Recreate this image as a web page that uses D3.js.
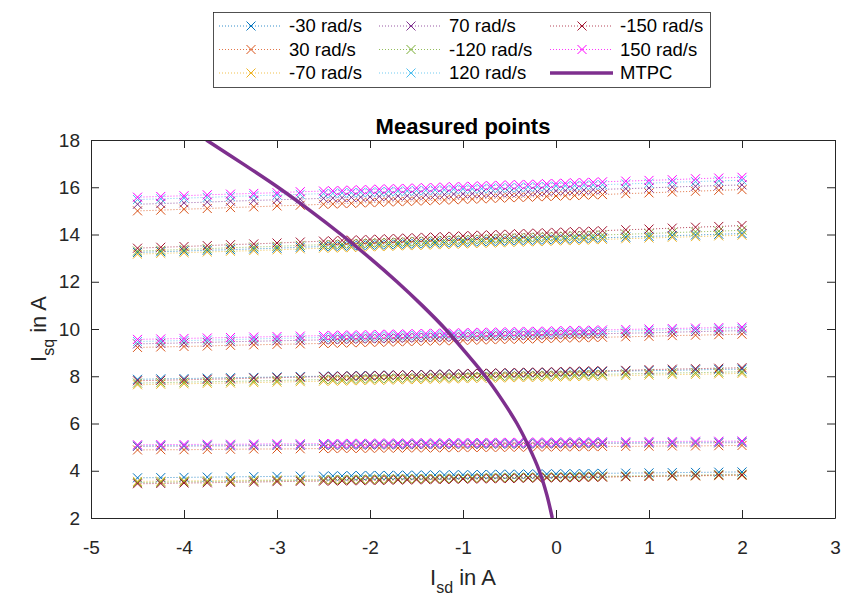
<!DOCTYPE html>
<html>
<head>
<meta charset="utf-8">
<script src="https://cdn.jsdelivr.net/npm/d3@7"></script>
<style>
    body { margin: 0; background: #fff; }
    svg { font-family: 'Liberation Sans', Arial, sans-serif; }
    .axis path, .axis line { stroke: #262626; }
    .axis text { fill: #262626; font-size: 19px; }
</style>
</head>
<body>
<svg width="845" height="595"></svg>
<script>
// Id points (A) of each measured row
let idPoints = [-4.5, -4.25, -4, -3.75, -3.5, -3.25, -3, -2.75,
    -2.5, -2.4, -2.3, -2.2, -2.1, -2, -1.9, -1.8, -1.7, -1.6, -1.5, -1.4, -1.3, -1.2, -1.1, -1,
    -0.9, -0.8, -0.7, -0.6, -0.5, -0.4, -0.3, -0.2, -0.1, 0, 0.1, 0.2, 0.3, 0.4, 0.5,
    0.75, 1, 1.25, 1.5, 1.75, 2];

// Iq values (A), one row per current level
let iqNeg30 = [
    [3.70,3.71,3.72,3.73,3.74,3.75,3.76,3.77,3.77,3.78,3.78,3.79,3.79,3.80,3.80,3.80,3.81,3.81,3.81,3.82,3.82,3.82,3.83,3.83,3.83,3.84,3.84,3.85,3.85,3.85,3.86,3.86,3.86,3.87,3.87,3.87,3.88,3.88,3.89,3.90,3.91,3.92,3.93,3.94,3.95],
    [7.87,7.89,7.90,7.92,7.94,7.95,7.97,7.99,8.00,8.01,8.01,8.02,8.03,8.03,8.04,8.05,8.05,8.06,8.07,8.07,8.08,8.09,8.09,8.10,8.11,8.11,8.12,8.13,8.13,8.14,8.15,8.15,8.16,8.17,8.17,8.18,8.18,8.19,8.20,8.22,8.24,8.25,8.27,8.29,8.30],
    [13.24,13.27,13.30,13.33,13.36,13.39,13.42,13.46,13.49,13.50,13.51,13.52,13.54,13.55,13.56,13.57,13.59,13.60,13.61,13.62,13.64,13.65,13.66,13.67,13.69,13.70,13.71,13.72,13.74,13.75,13.76,13.77,13.78,13.80,13.81,13.82,13.83,13.85,13.86,13.89,13.92,13.95,13.98,14.01,14.04]
];
let iqPos30 = [
    [4.88,4.89,4.89,4.90,4.91,4.92,4.92,4.93,4.94,4.94,4.95,4.95,4.95,4.95,4.96,4.96,4.96,4.97,4.97,4.97,4.97,4.98,4.98,4.98,4.99,4.99,4.99,4.99,5.00,5.00,5.00,5.01,5.01,5.01,5.01,5.02,5.02,5.02,5.03,5.03,5.04,5.05,5.05,5.06,5.07],
    [9.22,9.24,9.26,9.28,9.31,9.33,9.35,9.37,9.39,9.40,9.41,9.42,9.43,9.44,9.44,9.45,9.46,9.47,9.48,9.49,9.50,9.50,9.51,9.52,9.53,9.54,9.55,9.56,9.57,9.57,9.58,9.59,9.60,9.61,9.62,9.63,9.63,9.64,9.65,9.67,9.69,9.72,9.74,9.76,9.78],
    [15.00,15.03,15.07,15.10,15.14,15.17,15.21,15.24,15.28,15.29,15.31,15.32,15.34,15.35,15.36,15.38,15.39,15.40,15.42,15.43,15.45,15.46,15.47,15.49,15.50,15.51,15.53,15.54,15.56,15.57,15.58,15.60,15.61,15.63,15.64,15.65,15.67,15.68,15.69,15.73,15.76,15.80,15.83,15.87,15.90]
];
let iqNeg70 = [
    [3.55,3.56,3.57,3.58,3.59,3.60,3.61,3.62,3.62,3.63,3.63,3.64,3.64,3.65,3.65,3.65,3.66,3.66,3.66,3.67,3.67,3.67,3.68,3.68,3.68,3.69,3.69,3.70,3.70,3.70,3.71,3.71,3.71,3.72,3.72,3.72,3.73,3.73,3.74,3.75,3.76,3.77,3.78,3.79,3.80],
    [7.64,7.66,7.68,7.70,7.71,7.73,7.75,7.77,7.79,7.80,7.80,7.81,7.82,7.83,7.83,7.84,7.85,7.86,7.86,7.87,7.88,7.89,7.89,7.90,7.91,7.92,7.92,7.93,7.94,7.95,7.95,7.96,7.97,7.97,7.98,7.99,8.00,8.00,8.01,8.03,8.05,8.07,8.08,8.10,8.12],
    [13.17,13.20,13.23,13.26,13.29,13.32,13.35,13.39,13.42,13.43,13.44,13.45,13.47,13.48,13.49,13.50,13.52,13.53,13.54,13.55,13.57,13.58,13.59,13.60,13.62,13.63,13.64,13.65,13.67,13.68,13.69,13.70,13.71,13.73,13.74,13.75,13.76,13.78,13.79,13.82,13.85,13.88,13.91,13.94,13.97]
];
let iqPos70 = [
    [5.03,5.04,5.04,5.05,5.05,5.06,5.07,5.07,5.08,5.08,5.08,5.09,5.09,5.09,5.10,5.10,5.10,5.10,5.11,5.11,5.11,5.11,5.12,5.12,5.12,5.12,5.13,5.13,5.13,5.13,5.14,5.14,5.14,5.14,5.15,5.15,5.15,5.15,5.16,5.16,5.17,5.17,5.18,5.18,5.19],
    [9.37,9.39,9.41,9.43,9.46,9.48,9.50,9.52,9.54,9.55,9.56,9.57,9.58,9.59,9.59,9.60,9.61,9.62,9.63,9.64,9.65,9.65,9.66,9.67,9.68,9.69,9.70,9.71,9.72,9.72,9.73,9.74,9.75,9.76,9.77,9.78,9.78,9.79,9.80,9.82,9.84,9.86,9.89,9.91,9.93],
    [15.28,15.31,15.34,15.37,15.41,15.44,15.47,15.50,15.53,15.54,15.56,15.57,15.58,15.59,15.61,15.62,15.63,15.64,15.66,15.67,15.68,15.69,15.71,15.72,15.73,15.74,15.76,15.77,15.78,15.79,15.81,15.82,15.83,15.85,15.86,15.87,15.88,15.90,15.91,15.94,15.97,16.01,16.04,16.07,16.10]
];
let iqNeg120 = [
    [3.50,3.51,3.53,3.54,3.55,3.57,3.58,3.59,3.61,3.61,3.62,3.62,3.63,3.63,3.64,3.65,3.65,3.66,3.66,3.67,3.67,3.68,3.68,3.69,3.70,3.70,3.71,3.71,3.72,3.72,3.73,3.73,3.74,3.74,3.75,3.76,3.76,3.77,3.77,3.78,3.80,3.81,3.82,3.84,3.85],
    [7.71,7.73,7.75,7.77,7.78,7.80,7.82,7.84,7.86,7.87,7.87,7.88,7.89,7.90,7.90,7.91,7.92,7.93,7.93,7.94,7.95,7.96,7.96,7.97,7.98,7.99,7.99,8.00,8.01,8.02,8.02,8.03,8.04,8.04,8.05,8.06,8.07,8.07,8.08,8.10,8.12,8.14,8.15,8.17,8.19],
    [13.30,13.33,13.37,13.40,13.44,13.47,13.50,13.54,13.57,13.58,13.60,13.61,13.62,13.64,13.65,13.66,13.68,13.69,13.71,13.72,13.73,13.75,13.76,13.77,13.79,13.80,13.81,13.83,13.84,13.85,13.87,13.88,13.90,13.91,13.92,13.94,13.95,13.96,13.98,14.01,14.04,14.08,14.11,14.14,14.18]
];
let iqPos120 = [
    [5.06,5.07,5.07,5.08,5.08,5.09,5.10,5.10,5.11,5.11,5.11,5.12,5.12,5.12,5.13,5.13,5.13,5.13,5.14,5.14,5.14,5.14,5.15,5.15,5.15,5.15,5.16,5.16,5.16,5.16,5.17,5.17,5.17,5.17,5.18,5.18,5.18,5.18,5.19,5.19,5.20,5.20,5.21,5.21,5.22],
    [9.47,9.49,9.51,9.53,9.55,9.58,9.60,9.62,9.64,9.65,9.66,9.67,9.67,9.68,9.69,9.70,9.71,9.72,9.72,9.73,9.74,9.75,9.76,9.77,9.78,9.78,9.79,9.80,9.81,9.82,9.83,9.83,9.84,9.85,9.86,9.87,9.88,9.89,9.89,9.91,9.94,9.96,9.98,10.00,10.02],
    [15.48,15.51,15.54,15.57,15.61,15.64,15.67,15.70,15.73,15.74,15.76,15.77,15.78,15.79,15.81,15.82,15.83,15.84,15.86,15.87,15.88,15.89,15.91,15.92,15.93,15.94,15.96,15.97,15.98,15.99,16.01,16.02,16.03,16.05,16.06,16.07,16.08,16.10,16.11,16.14,16.17,16.21,16.24,16.27,16.30]
];
let iqNeg150 = [
    [3.45,3.46,3.48,3.49,3.51,3.52,3.54,3.55,3.56,3.57,3.57,3.58,3.58,3.59,3.59,3.60,3.61,3.61,3.62,3.62,3.63,3.63,3.64,3.65,3.65,3.66,3.66,3.67,3.67,3.68,3.69,3.69,3.70,3.70,3.71,3.71,3.72,3.73,3.73,3.75,3.76,3.78,3.79,3.81,3.82],
    [7.81,7.83,7.85,7.87,7.89,7.92,7.94,7.96,7.98,7.99,8.00,8.01,8.01,8.02,8.03,8.04,8.05,8.06,8.06,8.07,8.08,8.09,8.10,8.11,8.12,8.12,8.13,8.14,8.15,8.16,8.17,8.17,8.18,8.19,8.20,8.21,8.22,8.23,8.23,8.25,8.28,8.30,8.32,8.34,8.36],
    [13.42,13.46,13.49,13.53,13.57,13.60,13.64,13.68,13.72,13.73,13.75,13.76,13.77,13.79,13.80,13.82,13.83,13.85,13.86,13.88,13.89,13.91,13.92,13.94,13.95,13.97,13.98,14.00,14.01,14.03,14.04,14.06,14.07,14.09,14.10,14.12,14.13,14.14,14.16,14.20,14.23,14.27,14.31,14.34,14.38]
];
let iqPos150 = [
    [5.10,5.11,5.11,5.12,5.12,5.13,5.14,5.14,5.15,5.15,5.15,5.16,5.16,5.16,5.17,5.17,5.17,5.17,5.18,5.18,5.18,5.18,5.19,5.19,5.19,5.19,5.20,5.20,5.20,5.20,5.21,5.21,5.21,5.21,5.22,5.22,5.22,5.22,5.23,5.23,5.24,5.24,5.25,5.25,5.26],
    [9.56,9.58,9.60,9.62,9.64,9.66,9.68,9.70,9.72,9.73,9.74,9.74,9.75,9.76,9.77,9.78,9.78,9.79,9.80,9.81,9.82,9.82,9.83,9.84,9.85,9.86,9.86,9.87,9.88,9.89,9.90,9.90,9.91,9.92,9.93,9.94,9.94,9.95,9.96,9.98,10.00,10.02,10.04,10.06,10.08],
    [15.58,15.61,15.64,15.68,15.71,15.74,15.77,15.81,15.84,15.85,15.86,15.88,15.89,15.90,15.92,15.93,15.94,15.95,15.97,15.98,15.99,16.01,16.02,16.03,16.04,16.06,16.07,16.08,16.10,16.11,16.12,16.13,16.15,16.16,16.17,16.19,16.20,16.21,16.23,16.26,16.29,16.32,16.36,16.39,16.42]
];

// MTPC curve
let mtpcIq = [2, 3, 4, 5, 6, 7, 8, 9, 10, 11, 12, 13, 14, 15, 16, 17, 18];
let mtpcId = [-0.04, -0.10, -0.18, -0.29, -0.42, -0.58, -0.76, -0.97, -1.19, -1.44, -1.71, -2.00, -2.31, -2.64, -2.99, -3.37, -3.76];

let seriesLabels = ['-30 rad/s', '30 rad/s', '-70 rad/s', '70 rad/s', '-120 rad/s', '120 rad/s', '-150 rad/s', '150 rad/s'];
let seriesColors = ['#0072BD', '#D95319', '#EDB120', '#7E2F8E', '#77AC30', '#4DBEEE', '#A2142F', '#FF00FF'];
let seriesValues = [iqNeg30, iqPos30, iqNeg70, iqPos70, iqNeg120, iqPos120, iqNeg150, iqPos150];

let xTicks = [-5, -4, -3, -2, -1, 0, 1, 2, 3];
let yTicks = [2, 4, 6, 8, 10, 12, 14, 16, 18];

function main() {
    let svg = d3.select('svg'),
        margin = { top: 140, bottom: 77, left: 91, right: 10 },
        width = svg.attr('width') - margin.left - margin.right,
        height = svg.attr('height') - margin.top - margin.bottom;

    let xScale = d3.scaleLinear().domain([-5, 3]).range([margin.left, margin.left + width]),
        yScale = d3.scaleLinear().domain([2, 18]).range([margin.top + height, margin.top]);

    svg.append('clipPath').attr('id', 'plotclip')
        .append('rect')
        .attr('x', margin.left).attr('y', margin.top)
        .attr('width', width).attr('height', height);

    let markerPath = 'M-4.5,-4.5L4.5,4.5M-4.5,4.5L4.5,-4.5';
    let line = d3.line().x((d) => xScale(d[0])).y((d) => yScale(d[1]));
    let plainFormat = (d) => String(d);

    //Measured points
    let plot = svg.append('g').attr('clip-path', 'url(#plotclip)');
    seriesValues.forEach((rows, i) => {
        let g = plot.append('g');
        rows.forEach((row) => {
            let pts = row.map((v, k) => [idPoints[k], v]);
            g.append('path')
                .attr('d', line(pts))
                .attr('fill', 'none')
                .attr('stroke', seriesColors[i])
                .attr('stroke-width', 0.8)
                .attr('stroke-dasharray', '1,2');
            g.selectAll(null)
                .data(pts)
                .enter()
                .append('path')
                .attr('transform', (d) => 'translate(' + xScale(d[0]) + ',' + yScale(d[1]) + ')')
                .attr('d', markerPath)
                .attr('fill', 'none')
                .attr('stroke', seriesColors[i])
                .attr('stroke-width', 1);
        });
    });

    //MTPC
    plot.append('path')
        .attr('d', d3.line()
            .x((d, k) => xScale(mtpcId[k]))
            .y((d) => yScale(d))
            .curve(d3.curveCatmullRom)(mtpcIq))
        .attr('fill', 'none')
        .attr('stroke', '#7E2F8E')
        .attr('stroke-width', 3.5);

    //Axes with box
    svg.append('g').attr('class', 'axis')
        .attr('transform', 'translate(0,' + (margin.top + height) + ')')
        .call(d3.axisBottom(xScale).tickValues(xTicks).tickFormat(plainFormat)
            .tickSize(-8).tickSizeOuter(0).tickPadding(23));
    svg.append('g').attr('class', 'axis')
        .attr('transform', 'translate(' + margin.left + ',0)')
        .call(d3.axisLeft(yScale).tickValues(yTicks).tickFormat(plainFormat)
            .tickSize(-8).tickSizeOuter(0).tickPadding(11));
    svg.append('g').attr('class', 'axis')
        .attr('transform', 'translate(0,' + margin.top + ')')
        .call(d3.axisTop(xScale).tickValues(xTicks).tickSize(-8).tickSizeOuter(0).tickFormat(''));
    svg.append('g').attr('class', 'axis')
        .attr('transform', 'translate(' + (margin.left + width) + ',0)')
        .call(d3.axisRight(yScale).tickValues(yTicks).tickSize(-8).tickSizeOuter(0).tickFormat(''));

    //Title
    svg.append('text')
        .attr('text-anchor', 'middle')
        .attr('x', margin.left + width / 2)
        .attr('y', margin.top - 6)
        .style('font-size', '22px')
        .style('font-weight', 'bold')
        .text('Measured points');

    //Axis labels
    let xl = svg.append('text')
        .attr('text-anchor', 'middle')
        .attr('x', margin.left + width / 2)
        .attr('y', 585)
        .style('font-size', '22px')
        .attr('fill', '#262626');
    xl.append('tspan').text('I');
    xl.append('tspan').attr('dy', 8).style('font-size', '16px').text('sd');
    xl.append('tspan').attr('dy', -8).text(' in A');

    let yl = svg.append('text')
        .attr('text-anchor', 'middle')
        .attr('transform', 'translate(46,' + (margin.top + height / 2) + ') rotate(-90)')
        .style('font-size', '22px')
        .attr('fill', '#262626');
    yl.append('tspan').text('I');
    yl.append('tspan').attr('dy', 8).style('font-size', '16px').text('sq');
    yl.append('tspan').attr('dy', -8).text(' in A');

    //Legend
    let legend = svg.append('g');
    legend.append('rect')
        .attr('x', 213.5).attr('y', 12.5)
        .attr('width', 497).attr('height', 75)
        .attr('fill', '#fff')
        .attr('stroke', '#262626')
        .attr('stroke-width', 0.8);
    let colX = [219, 379, 550],
        rowY = [26, 49.5, 73];
    let entries = seriesLabels.map((s, i) => ({ label: s, color: seriesColors[i], mtpc: false }));
    entries.push({ label: 'MTPC', color: '#7E2F8E', mtpc: true });
    entries.forEach((e, i) => {
        let x0 = colX[Math.floor(i / 3)],
            y0 = rowY[i % 3];
        let item = legend.append('g').attr('transform', 'translate(' + x0 + ',' + y0 + ')');
        if (e.mtpc) {
            item.append('line')
                .attr('x1', 0).attr('x2', 63)
                .attr('stroke', e.color).attr('stroke-width', 3.5);
        } else {
            item.append('line')
                .attr('x1', 0).attr('x2', 63)
                .attr('stroke', e.color).attr('stroke-width', 0.8)
                .attr('stroke-dasharray', '1,2');
            item.append('path')
                .attr('transform', 'translate(32,0)')
                .attr('d', markerPath)
                .attr('fill', 'none')
                .attr('stroke', e.color)
                .attr('stroke-width', 1);
        }
        item.append('text')
            .attr('x', 70)
            .attr('dy', '0.35em')
            .style('font-size', '18.5px')
            .attr('fill', '#000')
            .text(e.label);
    });
}

main();
</script>
</body>
</html>
